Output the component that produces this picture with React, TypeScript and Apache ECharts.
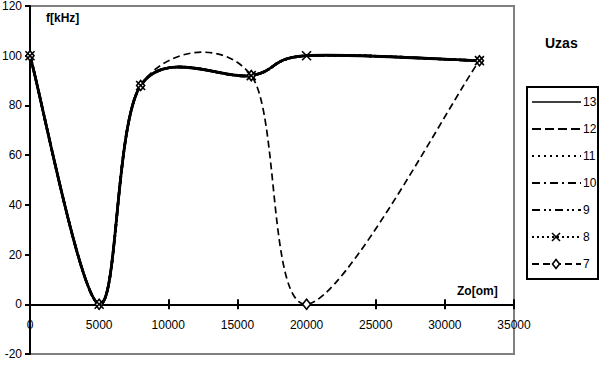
import React, { useEffect, useRef } from "react";
import * as echarts from "echarts";

const zo = [0, 5000, 8000, 16000, 20000, 32500];
const f13 = [100, 0, 88, 92, 100, 98];
const f12 = [100, 0, 88, 92, 100, 98];
const f11 = [100, 0, 88, 92, 100, 98];
const f10 = [100, 0, 88, 92, 100, 98];
const f9 = [100, 0, 88, 92, 100, 98];
const f8 = [100, 0, 88, 92, 100, 98];
const f7 = [100, 0, 88, 92, 0, 98];
const seriesNames = ["13", "12", "11", "10", "9", "8", "7"];
const xTicks = { min: 0, max: 35000, interval: 5000 };
const yTicks = { min: -20, max: 120, interval: 20 };

const FONT = "'Liberation Sans', Arial, Helvetica, sans-serif";

type Marker = "none" | "x" | "diamond";

function markerEls(m: Marker, cx: number, cy: number, s = 4.5, lw = 1.6) {
  if (m === "x") {
    return [
      { type: "line", shape: { x1: cx - s, y1: cy - s, x2: cx + s, y2: cy + s }, style: { stroke: "#000", lineWidth: lw } },
      { type: "line", shape: { x1: cx - s, y1: cy + s, x2: cx + s, y2: cy - s }, style: { stroke: "#000", lineWidth: lw } },
    ];
  }
  if (m === "diamond") {
    return [
      {
        type: "polygon",
        shape: { points: [[cx, cy - s - 0.5], [cx + s - 0.5, cy], [cx, cy + s + 0.5], [cx - s + 0.5, cy]] },
        style: { fill: "#fff", stroke: "#000", lineWidth: lw },
      },
    ];
  }
  return [];
}

const GRID = { left: 30, top: 6, right: 89, bottom: 11 };
const H = 365;

export default function App() {
  const ref = useRef<HTMLDivElement>(null);
  useEffect(() => {
    if (!ref.current) return;
    const chart = echarts.init(ref.current, undefined, { renderer: "svg" });

    const gridH = H - GRID.top - GRID.bottom;
    const zeroOffset = -(gridH * (0 - yTicks.min)) / (yTicks.max - yTicks.min);

    // Excel-style smoothed curve (Catmull-Rom, tension 1/6) through data points, in pixel space
    const mk = (name: string, ys: number[], width: number, dash: number[] | null, marker: Marker, z: number) => ({
      name,
      type: "custom",
      coordinateSystem: "cartesian2d",
      data: zo.map((x, i) => [x, ys[i]]),
      encode: { x: 0, y: 1 },
      clip: false,
      silent: true,
      z,
      renderItem: (params: any, api: any) => {
        const pts = zo.map((x, i) => api.coord([x, ys[i]]));
        const children: any[] = [];
        if (params.dataIndex === 0) {
          let d = `M${pts[0][0]},${pts[0][1]}`;
          for (let i = 0; i < pts.length - 1; i++) {
            const p0 = pts[Math.max(i - 1, 0)];
            const p1 = pts[i];
            const p2 = pts[i + 1];
            const p3 = pts[Math.min(i + 2, pts.length - 1)];
            const c1 = [p1[0] + (p2[0] - p0[0]) / 6, p1[1] + (p2[1] - p0[1]) / 6];
            const c2 = [p2[0] - (p3[0] - p1[0]) / 6, p2[1] - (p3[1] - p1[1]) / 6];
            d += ` C${c1[0]},${c1[1]} ${c2[0]},${c2[1]} ${p2[0]},${p2[1]}`;
          }
          children.push({
            type: "path",
            shape: { pathData: d },
            style: { fill: "none", stroke: "#000", lineWidth: width, lineDash: dash || undefined },
          });
        }
        const p = pts[params.dataIndex];
        children.push(...markerEls(marker, p[0], p[1]));
        return { type: "group", children };
      },
    });

    // custom legend
    const legendX = 527;
    const legendY = 87;
    const legendStyles: { w: number; dash: number[] | null; marker: Marker }[] = [
      { w: 1.4, dash: null, marker: "none" },
      { w: 2.2, dash: [9, 4], marker: "none" },
      { w: 2, dash: [2, 4], marker: "none" },
      { w: 2, dash: [8, 4, 2, 4], marker: "none" },
      { w: 2, dash: [8, 4, 2, 3, 2, 4], marker: "none" },
      { w: 2, dash: [2, 3], marker: "x" },
      { w: 2, dash: [7, 4], marker: "diamond" },
    ];
    const legendEls: any[] = [
      {
        type: "rect",
        shape: { x: legendX, y: legendY, width: 71, height: 192 },
        style: { fill: "#fff", stroke: "#000", lineWidth: 2 },
      },
    ];
    seriesNames.forEach((n, k) => {
      const cy = legendY + 15 + k * 27;
      const st = legendStyles[k];
      legendEls.push({
        type: "line",
        shape: { x1: legendX + 5, y1: cy, x2: legendX + 54, y2: cy },
        style: { stroke: "#000", lineWidth: st.w, lineDash: st.dash || undefined },
      });
      legendEls.push(...markerEls(st.marker, legendX + 29, cy, 4, 1.6));
      legendEls.push({
        type: "text",
        x: legendX + 56,
        y: cy,
        style: { text: n, font: `12px ${FONT}`, fill: "#000", verticalAlign: "middle", align: "left" },
      });
    });

    chart.setOption({
      animation: false,
      textStyle: { fontFamily: FONT },
      grid: {
        ...GRID,
        outerBoundsMode: "none",
        containLabel: false,
        show: true,
        borderColor: "#808080",
        borderWidth: 2,
        backgroundColor: "#fff",
      },
      xAxis: [
        {
          type: "value",
          position: "bottom",
          offset: zeroOffset,
          ...xTicks,
          axisLine: { onZero: false, lineStyle: { color: "#000", width: 2 } },
          axisTick: { show: true, length: 5, lineStyle: { color: "#000", width: 2 } },
          axisLabel: {
            color: "#000",
            fontSize: 12,
            margin: 15,
            fontFamily: FONT,
            formatter: (v: number) => String(v),
          },
          splitLine: { show: false },
        },
        {
          type: "value",
          position: "bottom",
          offset: zeroOffset,
          ...xTicks,
          axisLine: { show: false, onZero: false },
          axisTick: { show: true, inside: true, length: 5, lineStyle: { color: "#000", width: 2 } },
          axisLabel: { show: false },
          splitLine: { show: false },
        },
      ],
      yAxis: {
        type: "value",
        ...yTicks,
        axisLine: { show: true, onZero: false, lineStyle: { color: "#000", width: 2 } },
        axisTick: { show: true, length: 5, lineStyle: { color: "#000", width: 2 } },
        axisLabel: { color: "#000", fontSize: 12, margin: 8, fontFamily: FONT, formatter: (v: number) => String(v) },
        splitLine: { show: false },
      },
      graphic: [
        { type: "text", left: 46, top: 12, style: { text: "f[kHz]", font: `bold 12px ${FONT}`, fill: "#000" } },
        { type: "text", left: 457, top: 285, style: { text: "Zo[om]", font: `bold 12px ${FONT}`, fill: "#000" } },
        { type: "text", left: 545, top: 36, style: { text: "Uzas", font: `bold 14px ${FONT}`, fill: "#000" } },
        ...legendEls,
      ],
      series: [
        mk("12", f12, 2.5, [8, 4], "none", 2),
        mk("11", f11, 2.5, [2, 3], "none", 2),
        mk("10", f10, 2.5, [8, 3, 2, 3], "none", 2),
        mk("9", f9, 2.5, [8, 3, 2, 3, 2, 3], "none", 2),
        mk("13", f13, 2.8, null, "none", 3),
        mk("7", f7, 1.7, [7, 4], "diamond", 4),
        mk("8", f8, 1.5, [2, 3], "x", 5),
      ],
    });
    return () => chart.dispose();
  }, []);
  return <div ref={ref} style={{ width: 603, height: H, position: "absolute", left: 0, top: 0 }} />;
}
